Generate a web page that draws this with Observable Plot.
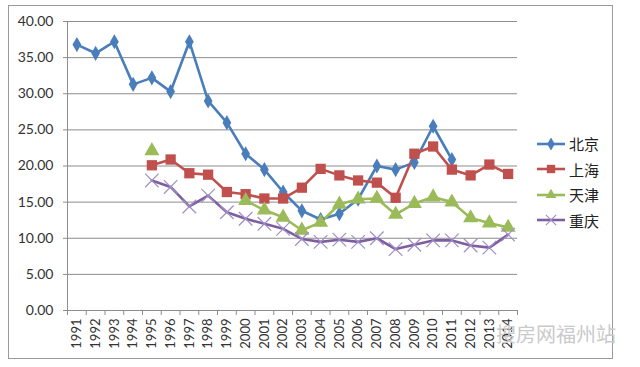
<!DOCTYPE html>
<html>
<head>
<meta charset="utf-8">
<script src="https://cdn.jsdelivr.net/npm/d3@7"></script>
<script src="https://cdn.jsdelivr.net/npm/@observablehq/plot@0.6"></script>
<style>
  html, body { margin: 0; padding: 0; background: #fff; }
  #wrap { position: relative; width: 640px; height: 367px; overflow: hidden; background: #fff; }
  #frame { position: absolute; left: 8px; top: 5px; width: 605px; height: 354px; border: 1px solid #9a9a9a; box-sizing: border-box; pointer-events: none; }
  #legend { position: absolute; left: 537px; top: 131px; font-family: "Noto Sans CJK SC", sans-serif; font-size: 15px; color: #222; }
  .item { display: flex; align-items: center; height: 25.5px; }
  .item svg { margin-right: 4px; }
  #wm { position: absolute; left: 496px; top: 319px; font-family: "Noto Sans CJK SC", sans-serif; font-size: 20px; color: #cacaca; letter-spacing: 0px; }
  #chart { position: absolute; left: 0; top: 0; }
</style>
</head>
<body>
<div id="wrap">
  <div id="chart"></div>
  <div id="frame"></div>
  <div id="legend"></div>
  <div id="wm">搜房网福州站</div>
</div>
<script>
const years = [1991,1992,1993,1994,1995,1996,1997,1998,1999,2000,2001,2002,2003,2004,2005,2006,2007,2008,2009,2010,2011,2012,2013,2014];
const seriesNames = ["北京","上海","天津","重庆"];
const beijing   = [36.8,35.6,37.2,31.3,32.2,30.3,37.2,29.0,26.0,21.7,19.5,16.4,13.8,12.6,13.4,15.4,20.0,19.5,20.5,25.5,20.9,null,null,null];
const shanghai  = [null,null,null,null,20.1,20.9,19.0,18.8,16.4,16.1,15.5,15.5,17.0,19.6,18.7,18.0,17.7,15.6,21.7,22.7,19.5,18.7,20.2,18.9];
const tianjin   = [null,null,null,null,22.1,null,null,null,null,15.2,13.9,12.9,11.1,12.2,14.7,15.4,15.5,13.3,14.8,15.7,15.0,12.8,12.1,11.5];
const chongqing = [null,null,null,null,18.0,17.1,14.4,15.9,13.6,12.7,12.0,11.3,9.9,9.5,9.8,9.5,10.0,8.5,9.1,9.7,9.7,9.0,8.7,10.5];
const yTicks = [0,5,10,15,20,25,30,35,40];

const seriesValues = [beijing, shanghai, tianjin, chongqing];
const colors = ["#4a7ebb","#c0504d","#9bbb59","#7d5fa0"];
const markerColors = ["#4a7ebb","#c0504d","#9bbb59","#a08ec6"];

const data = [];
seriesNames.forEach((s, k) => {
  years.forEach((yr, i) => {
    data.push({series: s, year: yr, value: seriesValues[k][i]});
  });
});
const bySeries = s => data.filter(d => d.series === s && d.value != null);
const boundaries = years.map(y => y - 0.5).concat([years[years.length - 1] + 0.5]);

const chart = Plot.plot({
  width: 640,
  height: 367,
  marginLeft: 67,
  marginRight: 123,
  marginTop: 21,
  marginBottom: 57,
  x: {type: "linear", domain: [boundaries[0], boundaries[boundaries.length - 1]]},
  y: {domain: [0, 40]},
  color: {domain: seriesNames, range: colors},
  style: {fontFamily: "Lato, 'Open Sans', sans-serif", background: "transparent", color: "#333"},
  marks: [
    Plot.gridY(yTicks, {stroke: "#8c8c8c", strokeOpacity: 1, strokeWidth: 1}),
    Plot.ruleX([boundaries[0]], {stroke: "#8c8c8c"}),
    Plot.ruleY([0], {stroke: "#8c8c8c"}),
    Plot.axisY(yTicks, {tickFormat: d => d.toFixed(2), tickSize: 4, tickPadding: 10, fontSize: 14, stroke: "#8c8c8c", fill: "#333", label: null}),
    Plot.axisX(boundaries, {tickFormat: () => "", tickSize: 5, stroke: "#8c8c8c", label: null}),
    Plot.axisX(years, {tickFormat: d => String(d), tickSize: 0, tickPadding: 8, tickRotate: -90, fontSize: 13, fill: "#333", label: null}),
    Plot.line(data, {x: "year", y: "value", z: "series", stroke: "series", strokeWidth: 2.6, curve: "linear"}),
    Plot.dot(bySeries("北京"), {x: "year", y: "value", symbol: "diamond", fill: markerColors[0], r: 4.6, stroke: "none"}),
    Plot.dot(bySeries("上海"), {x: "year", y: "value", symbol: "square", fill: markerColors[1], r: 5.8, stroke: "none"}),
    Plot.dot(bySeries("天津"), {x: "year", y: "value", symbol: "triangle", fill: markerColors[2], r: 5.6, stroke: "none"}),
    Plot.dot(bySeries("重庆"), {x: "year", y: "value", symbol: "times", stroke: markerColors[3], r: 6.2, strokeWidth: 1.2})
  ]
});
document.getElementById("chart").appendChild(chart);

// legend
const symbolsByIndex = [d3.symbolDiamond, d3.symbolSquare, d3.symbolTriangle, d3.symbolTimes || d3.symbolX];
const legend = document.getElementById("legend");
seriesNames.forEach((s, k) => {
  const item = document.createElement("div");
  item.className = "item";
  const svg = d3.create("svg").attr("width", 28).attr("height", 12);
  svg.append("line").attr("x1", 0).attr("x2", 28).attr("y1", 6).attr("y2", 6).attr("stroke", colors[k]).attr("stroke-width", 2.6);
  const sizes = [50, 70, 50, 70];
  const p = svg.append("path").attr("transform", "translate(14,6)").attr("d", d3.symbol(symbolsByIndex[k], sizes[k])());
  if (k === 3) p.attr("fill", "none").attr("stroke", markerColors[3]).attr("stroke-width", 1.2);
  else p.attr("fill", markerColors[k]);
  item.appendChild(svg.node());
  const t = document.createElement("span");
  t.textContent = s;
  item.appendChild(t);
  legend.appendChild(item);
});
</script>
</body>
</html>
